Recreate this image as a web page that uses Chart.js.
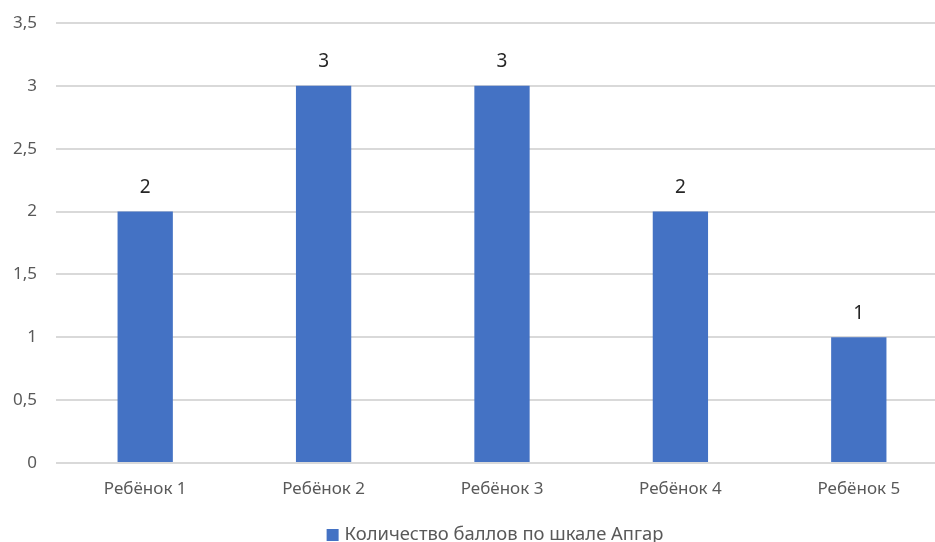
<!DOCTYPE html>
<html>
<head>
<meta charset="utf-8">
<script src="https://cdn.jsdelivr.net/npm/chart.js@4/dist/chart.umd.min.js"></script>
<style>
  html, body { margin: 0; padding: 0; background: #fff; overflow: hidden; }
  #wrap { width: 948px; height: 542px; position: relative; }
</style>
</head>
<body>
<div id="wrap"><canvas id="c"></canvas></div>
<script>
const categories = ['Ребёнок 1', 'Ребёнок 2', 'Ребёнок 3', 'Ребёнок 4', 'Ребёнок 5'];
const seriesName = 'Количество баллов по шкале Апгар';
const apgarScores = [2, 3, 3, 2, 1];
const yTicks = [0, 0.5, 1, 1.5, 2, 2.5, 3, 3.5];

const FONT = '"Noto Sans", "Open Sans", sans-serif';
const BAR_COLOR = '#4472C4';

// Value labels above each bar
const valueLabels = {
  id: 'valueLabels',
  afterDatasetsDraw(chart) {
    const ctx = chart.ctx;
    ctx.save();
    ctx.font = '19px ' + FONT;
    ctx.fillStyle = '#262626';
    ctx.textAlign = 'center';
    ctx.textBaseline = 'middle';
    chart.getDatasetMeta(0).data.forEach((bar, i) => {
      ctx.fillText(String(apgarScores[i]).replace('.', ','), bar.x, bar.y - 24);
    });
    ctx.restore();
  }
};

// Series key below the axis, centred on the visible page width
const seriesKey = {
  id: 'seriesKey',
  afterDraw(chart) {
    const ctx = chart.ctx;
    const ds = chart.data.datasets[0];
    ctx.save();
    ctx.font = '18.4px ' + FONT;
    const tw = ctx.measureText(ds.label).width;
    const box = 12, gap = 6;
    const total = box + gap + tw;
    const x0 = 495 - total / 2;
    const yMid = 535;
    ctx.fillStyle = ds.backgroundColor;
    ctx.fillRect(x0, yMid - box / 2, box, box);
    ctx.fillStyle = '#595959';
    ctx.textAlign = 'left';
    ctx.textBaseline = 'middle';
    ctx.fillText(ds.label, x0 + box + gap, yMid);
    ctx.restore();
  }
};

new Chart(document.getElementById('c'), {
  type: 'bar',
  data: {
    labels: categories,
    datasets: [{
      label: seriesName,
      data: apgarScores,
      backgroundColor: BAR_COLOR,
      borderWidth: 0,
      categoryPercentage: 1,
      barPercentage: 0.31
    }]
  },
  options: {
    responsive: true,
    maintainAspectRatio: false,
    animation: false,
    layout: { padding: { top: 23, right: 0, left: 0, bottom: 34 } },
    plugins: {
      tooltip: { enabled: false },
      legend: { display: false }
    },
    scales: {
      x: {
        grid: { display: false, drawTicks: false },
        border: { display: false },
        ticks: { font: { family: FONT, size: 17 }, color: '#595959', padding: 16 },
        afterFit(scale) { scale.height = 45; }
      },
      y: {
        min: 0,
        max: 3.5,
        afterBuildTicks(scale) { scale.ticks = yTicks.map(v => ({ value: v })); },
        grid: { color: '#d9d9d9', lineWidth: 2, drawTicks: false },
        border: { display: false },
        ticks: {
          font: { family: FONT, size: 17 },
          color: '#595959',
          padding: 19,
          callback: v => String(v).replace('.', ',')
        },
        afterFit(scale) {
          scale.width = 56;
          scale.paddingTop = 0;
          scale.paddingBottom = 0;
        }
      }
    }
  },
  plugins: [valueLabels, seriesKey]
});
</script>
</body>
</html>
